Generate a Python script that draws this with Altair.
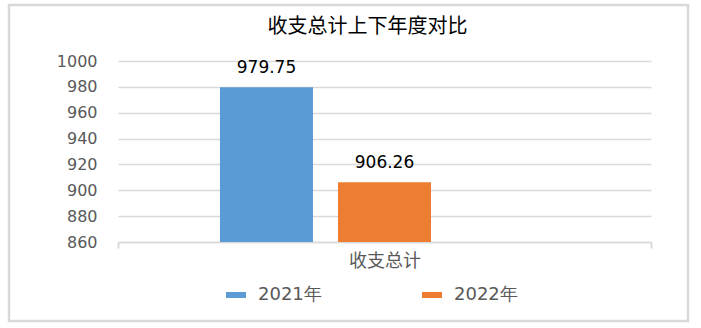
import altair as alt
import pandas as pd

title_text = "收支总计上下年度对比"
category = ["收支总计", "收支总计"]
series = ["2021年", "2022年"]
values = [979.75, 906.26]
offset_slots = ["2021年", "2022年", "(空)"]
y_ticks = [860, 880, 900, 920, 940, 960, 980, 1000]
colors = ["#5B9BD5", "#ED7D31"]

df = pd.DataFrame({"项目": category, "年度": series, "金额": values})

x_enc = alt.X(
    "项目:N",
    scale=alt.Scale(paddingInner=0, paddingOuter=0),
    axis=alt.Axis(
        title=None, labelAngle=0, tickBand="extent", ticks=True, tickSize=6,
        tickColor="#d9d9d9", tickWidth=2, domainColor="#d9d9d9", domainWidth=1.5,
        labelPadding=4, labelFont="Noto Sans CJK SC", labelFontSize=18,
        labelColor="#595959", grid=False,
    ),
)
xo_enc = alt.XOffset(
    "年度:N",
    scale=alt.Scale(domain=offset_slots, paddingInner=0.2119, paddingOuter=0.864),
)
y_enc = alt.Y(
    "金额:Q",
    scale=alt.Scale(domain=[y_ticks[0], y_ticks[-1]], zero=False, nice=False),
    axis=alt.Axis(
        title=None, values=y_ticks, format="d", domain=False, ticks=False,
        labelPadding=21, labelFont="DejaVu Sans", labelFontSize=16,
        labelColor="#595959", gridColor="#d9d9d9", gridWidth=1.5,
    ),
)

base = alt.Chart(df)

bars = base.mark_bar(clip=True).encode(
    x=x_enc,
    xOffset=xo_enc,
    y=y_enc,
    color=alt.Color(
        "年度:N",
        scale=alt.Scale(domain=series, range=colors),
        legend=alt.Legend(
            title=None, orient="none", legendX=108, legendY=224,
            direction="horizontal", columns=2, columnPadding=100,
            symbolType="M-1,-0.3H1V0.3H-1Z", symbolSize=400, symbolStrokeWidth=0,
            labelFont="DejaVu Sans", labelFontSize=18, labelColor="#595959",
            labelOffset=12, padding=0,
        ),
    ),
)

labels = base.mark_text(
    baseline="alphabetic", dy=-14, font="DejaVu Sans", fontSize=17, color="#000000"
).encode(
    x=x_enc,
    xOffset=xo_enc,
    y=y_enc,
    text=alt.Text("金额:Q", format=".2f"),
)

frame = alt.Chart(alt.Data(values=[{"f": 1}])).mark_rect(
    fill=None, stroke="#d9d9d9", strokeWidth=2.5
).encode(
    x=alt.value(-109), x2=alt.value(570), y=alt.value(-56), y2=alt.value(260)
)

chart = alt.layer(frame, bars, labels).properties(
    width=533,
    height=181,
    padding={"left": 118, "top": 61, "right": 50, "bottom": 86},
    autosize=alt.AutoSizeParams(type="none"),
    title=alt.TitleParams(
        title_text, orient="top", anchor="middle", frame="group", baseline="bottom",
        offset=0, dy=53, dx=-17, font="Noto Sans CJK SC", fontSize=20,
        fontWeight="normal", color="#000000",
    ),
    background="white",
).configure_view(stroke=None)

chart.save("out.html", embed_options={"renderer": "svg", "actions": False})
